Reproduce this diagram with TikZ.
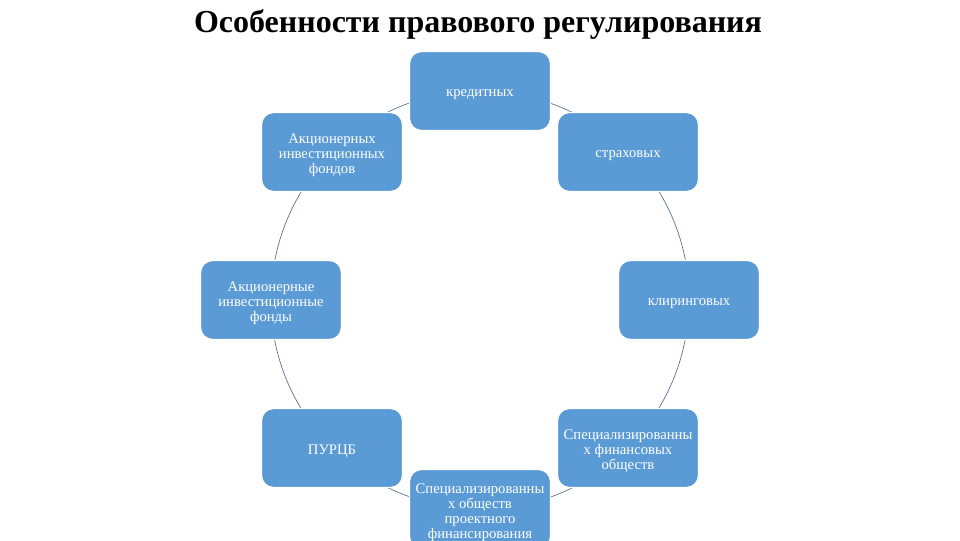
\documentclass[tikz,border=0pt]{standalone}
\usepackage{fontspec}
\setmainfont{Liberation Serif}
\usetikzlibrary{backgrounds}
\definecolor{boxblue}{HTML}{5B9BD5}
\definecolor{arcline}{HTML}{4F6F8F}
\tikzset{
  x=0.75pt, y=0.75pt,
  itembox/.style={rectangle, rounded corners=9pt, fill=boxblue, draw=white, line width=1pt,
    minimum width=105.75pt, minimum height=59.25pt, inner sep=0pt},
  itemtext/.style={align=center, text=white, font=\fontsize{11}{11.3}\selectfont,
    inner sep=0pt, yshift=-2.5pt},
  ring/.style={draw=arcline, line width=0.5pt},
  titletext/.style={font=\fontsize{24}{28}\selectfont\bfseries, text=black}
}
\begin{document}
\begin{tikzpicture}
\useasboundingbox (0,0) rectangle (960,540);
\node[titletext] (title) at (478,515) {Особенности правового регулирования};
\node[itembox, label={[itemtext]center:кредитных}] (n1) at (480,449) {};
\node[itembox, label={[itemtext]center:страховых}] (n2) at (628,388) {};
\node[itembox, label={[itemtext]center:клиринговых}] (n3) at (689,240) {};
\node[itembox, label={[itemtext]center:{Специализированны\\х финансовых\\обществ}}] (n4) at (628,92) {};
\node[itembox, label={[itemtext]center:{Специализированны\\х обществ\\проектного\\финансирования}}] (n5) at (480,31) {};
\node[itembox, label={[itemtext]center:ПУРЦБ}] (n6) at (332,92) {};
\node[itembox, label={[itemtext]center:{Акционерные\\инвестиционные\\фонды}}] (n7) at (271,240) {};
\node[itembox, label={[itemtext]center:{Акционерных\\инвестиционных\\фондов}}] (n8) at (332,388) {};
\begin{scope}[on background layer]
\draw[ring] (n1.center) arc[start angle=90, end angle=45, radius=209];
\draw[ring] (n2.center) arc[start angle=45, end angle=0, radius=209];
\draw[ring] (n3.center) arc[start angle=0, end angle=-45, radius=209];
\draw[ring] (n4.center) arc[start angle=-45, end angle=-90, radius=209];
\draw[ring] (n5.center) arc[start angle=-90, end angle=-135, radius=209];
\draw[ring] (n6.center) arc[start angle=-135, end angle=-180, radius=209];
\draw[ring] (n7.center) arc[start angle=180, end angle=135, radius=209];
\draw[ring] (n8.center) arc[start angle=135, end angle=90, radius=209];
\end{scope}
\end{tikzpicture}
\end{document}
